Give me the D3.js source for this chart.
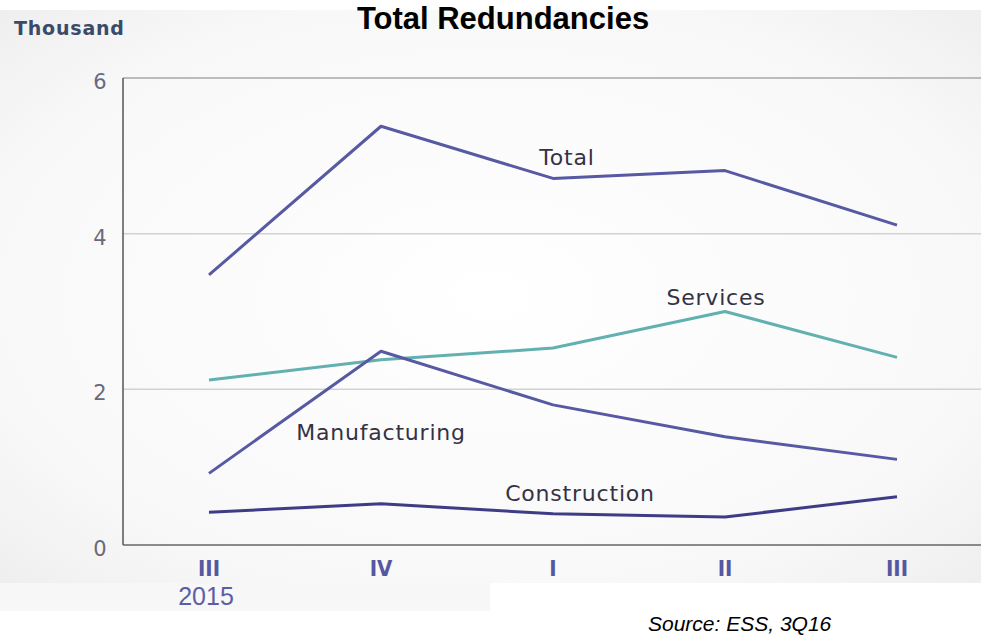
<!DOCTYPE html>
<html><head><meta charset="utf-8">
<script src="https://cdn.jsdelivr.net/npm/d3@7"></script>
<style>body{margin:0;background:#fff}svg{display:block}</style>
</head><body>
<script>
const quarters = ["III", "IV", "I", "II", "III"];
const yearLabel = "2015";
const yTicks = [0, 2, 4, 6];
const total = [3.47, 5.38, 4.71, 4.81, 4.11];
const services = [2.12, 2.38, 2.53, 3.0, 2.41];
const manufacturing = [0.92, 2.49, 1.80, 1.39, 1.10];
const construction = [0.42, 0.53, 0.40, 0.36, 0.62];

const W = 981, H = 635;
const svg = d3.select("body").append("svg").attr("width", W).attr("height", H);

// background
const defs = svg.append("defs");
const g1 = defs.append("radialGradient").attr("id","bg").attr("cx","0.5").attr("cy","0.5").attr("r","0.7");
g1.append("stop").attr("offset","0").attr("stop-color","#ffffff");
g1.append("stop").attr("offset","0.75").attr("stop-color","#f8f8f8");
g1.append("stop").attr("offset","1").attr("stop-color","#efefef");
svg.append("rect").attr("x",0).attr("y",10).attr("width",W).attr("height",573).attr("fill","url(#bg)");
svg.append("rect").attr("x",490).attr("y",583).attr("width",W-490).attr("height",H-583).attr("fill","#fff");
svg.append("rect").attr("x",0).attr("y",583).attr("width",490).attr("height",28).attr("fill","#f7f7f7");

const x = d3.scalePoint().domain(d3.range(quarters.length)).range([209, 897]);
const y = d3.scaleLinear().domain([0, 6]).range([545, 78]);
const left = 123, right = W;

// gridlines
svg.append("g").selectAll("line").data(yTicks.filter(t => t > 0)).join("line")
  .attr("x1", left).attr("x2", right)
  .attr("y1", d => y(d)).attr("y2", d => y(d))
  .attr("stroke", d => d === 6 ? "#a8a8a8" : "#d2d2d2").attr("stroke-width", 1.5);

// axes lines
svg.append("line").attr("x1", left).attr("x2", left).attr("y1", y(6)).attr("y2", y(0)).attr("stroke","#555").attr("stroke-width",1.5);
svg.append("line").attr("x1", left).attr("x2", right).attr("y1", y(0)).attr("y2", y(0)).attr("stroke","#666").attr("stroke-width",1.5);

// y tick labels
svg.append("g").selectAll("text").data(yTicks).join("text")
  .attr("x", 100).attr("y", d => y(d) + 11)
  .attr("text-anchor","middle")
  .attr("font-family","'DejaVu Sans', sans-serif").attr("font-size",21)
  .attr("fill","#6a6a78").text(d => d);

// x tick labels
svg.append("g").selectAll("text").data(quarters).join("text")
  .attr("x", (d,i) => x(i)).attr("y", 576)
  .attr("text-anchor","middle")
  .attr("font-family","'DejaVu Sans Condensed', 'DejaVu Sans', sans-serif").attr("font-weight","bold").attr("font-size",22)
  .attr("fill","#5557a0").text(d => d);
svg.append("text").attr("x", 206).attr("y", 605).attr("text-anchor","middle")
  .attr("font-family","'Liberation Sans', Arial, sans-serif").attr("font-size",25)
  .attr("fill","#5b5ea6").text(yearLabel);

// lines
const line = d3.line().x((d,i) => x(i)).y(d => y(d));
const series = [
  {data: total, color: "#5759a3"},
  {data: services, color: "#62b0b0"},
  {data: manufacturing, color: "#5759a3"},
  {data: construction, color: "#3e3c86"}
];
svg.append("g").selectAll("path").data(series).join("path")
  .attr("d", d => line(d.data)).attr("fill","none")
  .attr("stroke", d => d.color).attr("stroke-width", 3).attr("stroke-linejoin","round");

// series labels
const labels = [
  {t:"Total", x:567, y:165},
  {t:"Services", x:716, y:305},
  {t:"Manufacturing", x:381, y:440},
  {t:"Construction", x:580, y:501}
];
svg.append("g").selectAll("text").data(labels).join("text")
  .attr("x", d => d.x).attr("y", d => d.y).attr("text-anchor","middle")
  .attr("font-family","'DejaVu Sans', sans-serif").attr("font-size",22)
  .attr("letter-spacing", 0.8)
  .attr("fill","#333345").text(d => d.t);

// title etc
svg.append("text").attr("x", 503).attr("y", 29).attr("text-anchor","middle")
  .attr("font-family","'Liberation Sans', Arial, sans-serif").attr("font-weight","bold").attr("font-size",31)
  .attr("fill","#000").text("Total Redundancies");
svg.append("text").attr("x", 14).attr("y", 35)
  .attr("font-family","'DejaVu Sans', sans-serif").attr("font-weight","bold").attr("font-size",19)
  .attr("letter-spacing", 0.8)
  .attr("fill","#3b4a68").text("Thousand");
svg.append("text").attr("x", 648).attr("y", 631)
  .attr("font-family","'Liberation Sans', Arial, sans-serif").attr("font-style","italic").attr("font-size",21)
  .attr("fill","#000").text("Source: ESS, 3Q16");
</script>
</body></html>
